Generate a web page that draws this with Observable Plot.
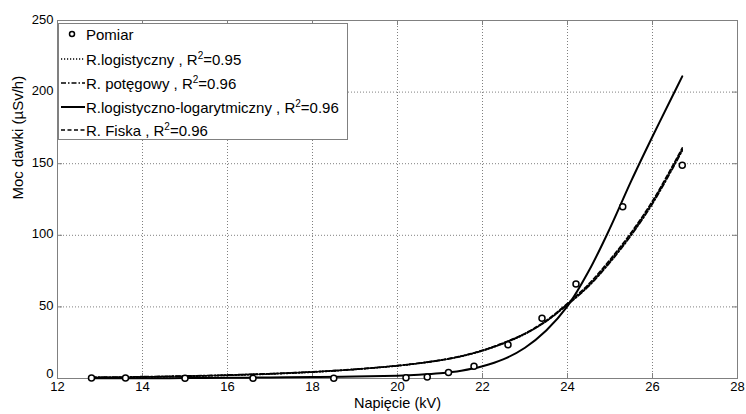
<!DOCTYPE html>
<html><head><meta charset="utf-8">
<script src="https://cdn.jsdelivr.net/npm/d3@7"></script>
<script src="https://cdn.jsdelivr.net/npm/@observablehq/plot@0.6"></script>
<style>
body{margin:0;background:#fff;}
#wrap{position:relative;width:746px;height:414px;font-family:"Liberation Sans",Arial,sans-serif;}
#legend{position:absolute;left:58px;top:23px;width:290px;height:117px;border:1px solid #808080;background:#fff;box-sizing:border-box;}
.row{position:absolute;left:0;height:24px;display:flex;align-items:center;font-size:15px;color:#000;white-space:nowrap;}
.row svg{margin-left:1px;margin-right:1px;}
.row sup{font-size:10px;vertical-align:6px;line-height:0;}
</style></head><body><div id="wrap"></div>
<script>
// Measured points
const measX = [12.8, 13.6, 15.0, 16.6, 18.5, 20.2, 20.7, 21.2, 21.8, 22.6, 23.4, 24.2, 25.3, 26.7];
const measY = [0.4, 0.4, 0.2, 0.1, 0.2, 0.5, 1.0, 4.2, 8.5, 23.5, 42, 66, 120, 149];

// Model curves
const curveX   = [12.8, 13.5, 14, 15, 16, 17, 18, 19, 20, 20.5, 21, 21.5, 22, 22.5, 23, 23.5, 24, 24.5, 25, 25.5, 26, 26.5, 26.7];
const logistY  = [0.6, 0.8, 1.0, 1.5, 2.2, 3.1, 4.4, 6.3, 8.8, 10.5, 12.6, 15.4, 19.3, 24.5, 31, 40, 52, 65, 82, 101, 123, 149, 160];
const powerY   = [0.9, 1.1, 1.3, 1.8, 2.5, 3.4, 4.7, 6.5, 9.0, 10.7, 12.8, 15.6, 19.6, 24.8, 31.3, 40, 51.5, 64.5, 81, 100, 122, 148, 159];
const loglogY  = [0.1, 0.15, 0.2, 0.3, 0.5, 0.7, 1.0, 1.4, 2.0, 2.6, 3.6, 5.4, 8.5, 13.5, 21.5, 33.5, 50.5, 75, 105, 138, 169, 199, 211];
const fiskY    = [0.7, 0.9, 1.1, 1.6, 2.3, 3.3, 4.6, 6.4, 9.0, 10.7, 12.8, 15.7, 19.7, 25, 31.5, 40.5, 52.5, 66, 83, 102, 124, 150, 161];

const xTicks = [12, 14, 16, 18, 20, 22, 24, 26, 28];
const yTicks = [0, 50, 100, 150, 200, 250];

const seriesNames = ["Pomiar", "R.logistyczny", "R. potęgowy", "R.logistyczno-logarytmiczny", "R. Fiska"];
const r2Values = [null, "0.95", "0.96", "0.96", "0.96"];
const xLabel = "Napięcie (kV)";
const yLabel = "Moc dawki (µSv/h)";

const W = 746, H = 414, mL = 57, mR = 9, mT = 20, mB = 36;
const innerW = W - mL - mR, innerH = H - mT - mB;
const gray = "#808080";

const mk = ys => curveX.map((x, i) => ({x, y: ys[i]}));
const meas = measX.map((x, i) => ({x, y: measY[i]}));
const styles = [
  {data: mk(logistY), dash: "1.2,1.8", w: 1.6},
  {data: mk(powerY), dash: "5,2,1.5,2", w: 1.6},
  {data: mk(loglogY), dash: null, w: 2},
  {data: mk(fiskY), dash: "4,2.5", w: 1.6}
];

const chart = Plot.plot({
  width: W, height: H, marginLeft: mL, marginRight: mR, marginTop: mT, marginBottom: mB,
  style: {fontFamily: '"Liberation Sans", Arial, sans-serif', fontSize: "13px", color: "#000", background: "#fff"},
  x: {domain: [12, 28]},
  y: {domain: [0, 250]},
  marks: [
    Plot.gridX(xTicks, {stroke: gray, strokeOpacity: 1, strokeDasharray: "1,2"}),
    Plot.gridY(yTicks, {stroke: gray, strokeOpacity: 1, strokeDasharray: "1,2"}),
    Plot.tickX(xTicks, {x: d => d, insetTop: innerH - 5, stroke: gray}),
    Plot.tickX(xTicks, {x: d => d, insetBottom: innerH - 5, stroke: gray}),
    Plot.tickY(yTicks, {y: d => d, insetRight: innerW - 5, stroke: gray}),
    Plot.tickY(yTicks, {y: d => d, insetLeft: innerW - 5, stroke: gray}),
    Plot.frame({stroke: gray}),
    ...styles.map(s => Plot.line(s.data, {x: "x", y: "y", curve: "catmull-rom", stroke: "#000", strokeWidth: s.w, strokeDasharray: s.dash})),
    Plot.dot(meas, {x: "x", y: "y", r: 3, stroke: "#000", strokeWidth: 1.5, fill: "#fff"}),
    Plot.axisX(xTicks, {tickSize: 0, tickPadding: 3, label: null, fontSize: 13}),
    Plot.axisY(yTicks.filter(d => d !== 0), {tickSize: 0, tickPadding: 4, label: null, fontSize: 13, dy: -1}),
    Plot.axisY(yTicks.filter(d => d === 0), {tickSize: 0, tickPadding: 4, label: null, fontSize: 13, dy: -5}),
    Plot.text([xLabel], {frameAnchor: "bottom", dy: 29.5, fontSize: 14.5, fill: "#000"}),
    Plot.text([yLabel], {frameAnchor: "left", dx: -39, rotate: -90, fontSize: 15, fill: "#000"})
  ]
});
const wrap = document.getElementById("wrap");
wrap.appendChild(chart);

// Legend
const legend = document.createElement("div");
legend.id = "legend";
const rowCenters = [10, 35, 59, 83, 106];
const sampleDash = [null, "1.2,1.8", "5,2,1.5,2", null, "4,2.5"];
seriesNames.forEach((name, i) => {
  const row = document.createElement("div");
  row.className = "row";
  row.style.top = (rowCenters[i] - 12) + "px";
  let sample;
  if (i === 0) {
    sample = `<svg width="25" height="24"><circle cx="12" cy="12" r="2.5" fill="#fff" stroke="#000" stroke-width="1.5"/></svg>`;
  } else {
    sample = `<svg width="25" height="24"><line x1="1" x2="25" y1="12" y2="12" stroke="#000" stroke-width="${i===3?2:1.6}" ${sampleDash[i] ? `stroke-dasharray="${sampleDash[i]}"` : ""}/></svg>`;
  }
  const txt = r2Values[i] ? `${name} , R<sup>2</sup>=${r2Values[i]}` : name;
  row.innerHTML = sample + `<span>${txt}</span>`;
  legend.appendChild(row);
});
wrap.appendChild(legend);
</script></body></html>
